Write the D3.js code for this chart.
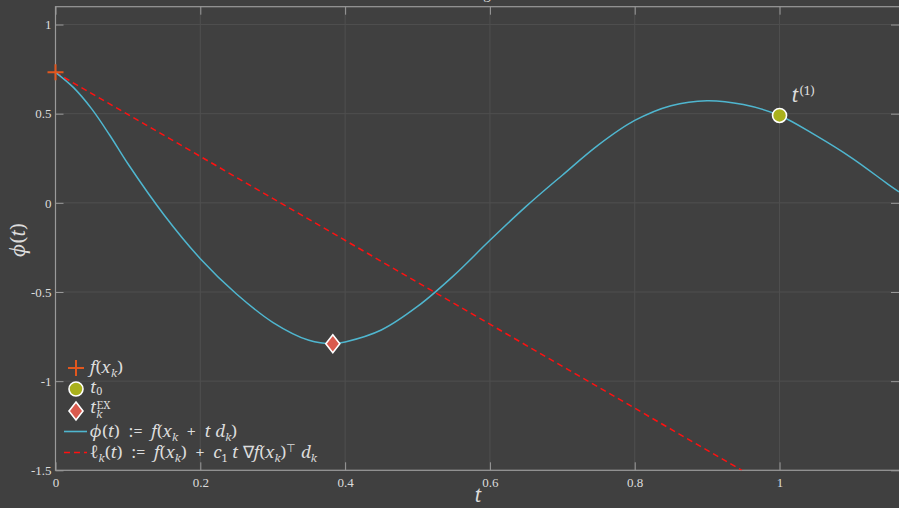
<!DOCTYPE html>
<html>
<head>
<meta charset="utf-8">
<script src="https://cdn.jsdelivr.net/npm/d3@7"></script>
<style>
  html, body { margin: 0; padding: 0; background: #404040; overflow: hidden; }
  svg { display: block; }
</style>
</head>
<body>
<div id="graph"></div>
<script>
// phi(t)
const phiT = [0, 0.025, 0.05, 0.075, 0.1, 0.15, 0.2, 0.25, 0.3, 0.35, 0.383, 0.4, 0.45, 0.5, 0.55, 0.6,
  0.65, 0.7, 0.75, 0.8, 0.85, 0.9, 0.95, 1.0, 1.05, 1.1, 1.15, 1.165];
const phiV = [0.732, 0.646, 0.527, 0.379, 0.219, -0.068, -0.313, -0.511, -0.670, -0.771, -0.790, -0.780,
  -0.713, -0.581, -0.408, -0.210, -0.020, 0.155, 0.325, 0.462, 0.545, 0.573, 0.551, 0.490,
  0.378, 0.251, 0.104, 0.062];

// armijo line l_k(t)
const lineT = [0, 0.948];
const lineV = [0.731, -1.5];

// markers
const fxk = [0, 0.732];
const t0 = [1.0, 0.49];
const tEx = [0.383, -0.79];

const xTicks = [0, 0.2, 0.4, 0.6, 0.8, 1];
const yTicks = [-1.5, -1, -0.5, 0, 0.5, 1];
const xDomain = [0, 1.165];
const yDomain = [-1.5, 1.1];

const W = 899, H = 508;
const pLeft = 55.5, pRight = 899, pTop = 6.7, pBottom = 470.3;

const bg = '#404040', gridCol = '#4f4f4f', axisCol = '#9a9a9a', textCol = '#dcdcdc';
const serif = '"Liberation Serif", serif';
const mathFont = '"Noto Serif", "Liberation Serif", serif';
const SP = '\u2002'; // wider math spacing

let svg = d3.select('#graph').append('svg').attr('width', W).attr('height', H);
svg.append('rect').attr('width', W).attr('height', H).attr('fill', bg);

let xScale = d3.scaleLinear().domain(xDomain).range([pLeft, pRight]);
let yScale = d3.scaleLinear().domain(yDomain).range([pBottom, pTop]);

// title (mostly outside the view)
svg.append('text')
  .attr('x', 485).attr('y', -1)
  .attr('text-anchor', 'middle')
  .attr('font-family', serif).attr('font-size', 15)
  .attr('fill', textCol)
  .text('Backtracking line search');

// grid
svg.append('g').selectAll('line').data(xTicks).join('line')
  .attr('x1', (d) => xScale(d)).attr('x2', (d) => xScale(d))
  .attr('y1', pTop).attr('y2', pBottom)
  .attr('stroke', gridCol).attr('stroke-width', 1);
svg.append('g').selectAll('line').data(yTicks).join('line')
  .attr('x1', pLeft).attr('x2', pRight)
  .attr('y1', (d) => yScale(d)).attr('y2', (d) => yScale(d))
  .attr('stroke', gridCol).attr('stroke-width', 1);

// axes: bottom/left with labels, inward ticks
let xAxis = d3.axisBottom(xScale).tickValues(xTicks).tickSizeInner(-8).tickSizeOuter(0)
  .tickPadding(7).tickFormat((d) => String(d));
let yAxis = d3.axisLeft(yScale).tickValues(yTicks).tickSizeInner(-8).tickSizeOuter(0)
  .tickPadding(4).tickFormat((d) => String(d));

let gx = svg.append('g').attr('transform', 'translate(0,' + pBottom + ')').call(xAxis);
let gy = svg.append('g').attr('transform', 'translate(' + pLeft + ',0)').call(yAxis);
let gxt = svg.append('g').attr('transform', 'translate(0,' + pTop + ')')
  .call(d3.axisTop(xScale).tickValues(xTicks).tickSizeInner(-8).tickSizeOuter(0).tickFormat(''));
let gyr = svg.append('g').attr('transform', 'translate(' + pRight + ',0)')
  .call(d3.axisRight(yScale).tickValues(yTicks).tickSizeInner(-8).tickSizeOuter(0).tickFormat(''));

[gx, gy, gxt, gyr].forEach((g) => {
  g.attr('font-family', serif).attr('font-size', 13);
  g.select('.domain').remove();
  g.selectAll('.tick line').attr('stroke', axisCol).attr('stroke-width', 1);
  g.selectAll('.tick text').attr('fill', textCol);
});

// box
svg.append('rect')
  .attr('x', pLeft).attr('y', pTop)
  .attr('width', pRight - pLeft + 2).attr('height', pBottom - pTop)
  .attr('fill', 'none').attr('stroke', axisCol).attr('stroke-width', 1.2);

// clip
svg.append('clipPath').attr('id', 'clip').append('rect')
  .attr('x', pLeft).attr('y', pTop).attr('width', pRight - pLeft).attr('height', pBottom - pTop);

let vis = svg.append('g').attr('clip-path', 'url(#clip)');

let lineGen = d3.line()
  .x((d) => xScale(d[0]))
  .y((d) => yScale(d[1]));

vis.append('path')
  .datum(lineT.map((t, i) => [t, lineV[i]]))
  .attr('fill', 'none')
  .attr('stroke', '#ff1010')
  .attr('stroke-width', 1.5)
  .attr('stroke-dasharray', '6,4')
  .attr('d', lineGen);

vis.append('path')
  .datum(phiT.map((t, i) => [t, phiV[i]]))
  .attr('fill', 'none')
  .attr('stroke', '#4fb6cf')
  .attr('stroke-width', 1.5)
  .attr('d', lineGen.curve(d3.curveCatmullRom.alpha(0.5)));

// marker drawers
function drawPlus(g, cx, cy) {
  g.append('path')
    .attr('d', 'M' + (cx - 8) + ',' + cy + 'H' + (cx + 8) + 'M' + cx + ',' + (cy - 8) + 'V' + (cy + 8))
    .attr('stroke', '#e2571e').attr('stroke-width', 2).attr('fill', 'none');
}
function drawCircle(g, cx, cy) {
  g.append('circle').attr('cx', cx).attr('cy', cy).attr('r', 7)
    .attr('fill', '#a9b11c').attr('stroke', '#ffffff').attr('stroke-width', 1.6);
}
function drawDiamond(g, cx, cy) {
  g.append('path')
    .attr('d', 'M' + cx + ',' + (cy - 9) + 'L' + (cx + 7) + ',' + cy + 'L' + cx + ',' + (cy + 9) + 'L' + (cx - 7) + ',' + cy + 'Z')
    .attr('fill', '#d95a4e').attr('stroke', '#ffffff').attr('stroke-width', 1.6);
}

drawPlus(svg, xScale(fxk[0]), yScale(fxk[1]));
drawDiamond(svg, xScale(tEx[0]), yScale(tEx[1]));
drawCircle(svg, xScale(t0[0]), yScale(t0[1]));

// math text helper: segments [text, italic, shift (+ down / - up), dx]
function mathText(g, x, y, size, segs) {
  let txt = g.append('text').attr('x', x).attr('y', y)
    .attr('font-family', mathFont).attr('font-size', size).attr('fill', textCol);
  let shift = 0;
  segs.forEach((s) => {
    let target = s[2] || 0;
    let ts = txt.append('tspan').text(s[0]).attr('dy', target - shift);
    if (s[1]) ts.attr('font-style', 'italic');
    if (target !== 0) ts.attr('font-size', size * 0.64);
    if (s[3]) ts.attr('dx', s[3]);
    shift = target;
  });
  return txt;
}

// t^(1) label
mathText(svg, xScale(t0[0]) + 12, yScale(t0[1]) - 13, 19, [['t', true], ['(1)', false, -7, 1]]);

// axis labels
svg.append('text')
  .attr('x', 478).attr('y', 502)
  .attr('text-anchor', 'middle')
  .attr('font-family', mathFont).attr('font-size', 19).attr('font-style', 'italic')
  .attr('fill', textCol).text('t');

mathText(svg, 0, 0, 19, [['ϕ', true], ['(', false], ['t', true], [')', false]])
  .attr('x', null).attr('y', null)
  .attr('text-anchor', 'middle')
  .attr('transform', 'translate(25,240) rotate(-90)');

// legend
let lg = svg.append('g');
const lx = 90, lsize = 17, sb = 3.5, sp = -6;
drawPlus(lg, 76, 368);
mathText(lg, lx, 373, lsize, [['f', true], ['(', false], ['x', true], ['k', true, sb, 0.5], [')', false]]);
drawCircle(lg, 76, 389);
mathText(lg, lx, 393, lsize, [['t', true], ['0', false, 2]]);
drawDiamond(lg, 76, 411);
mathText(lg, lx, 413, lsize, [['t', true], ['k', true, 4.5], ['EX', false, -4, -6]]);
lg.append('line').attr('x1', 64).attr('x2', 87).attr('y1', 431.5).attr('y2', 431.5)
  .attr('stroke', '#4fb6cf').attr('stroke-width', 1.6);
mathText(lg, lx, 437, lsize, [['ϕ', true], ['(', false], ['t', true], [')' + SP + ':=' + SP, false], ['f', true], ['(', false],
  ['x', true], ['k', true, sb], [SP + '+' + SP, false], ['t d', true], ['k', true, sb], [')', false]]);
lg.append('line').attr('x1', 64).attr('x2', 87).attr('y1', 452.5).attr('y2', 452.5)
  .attr('stroke', '#ff1010').attr('stroke-width', 1.6).attr('stroke-dasharray', '6,4');
mathText(lg, lx, 458, lsize, [['ℓ', true], ['k', true, sb], ['(', false], ['t', true], [')' + SP + ':=' + SP, false],
  ['f', true], ['(', false], ['x', true], ['k', true, sb], [')' + SP + '+' + SP, false], ['c', true], ['1', false, sb],
  [' t ', true], ['∇', false], ['f', true], ['(', false], ['x', true], ['k', true, sb], [')', false],
  ['⊤', false, sp], [' d', true], ['k', true, sb]]);
</script>
</body>
</html>
